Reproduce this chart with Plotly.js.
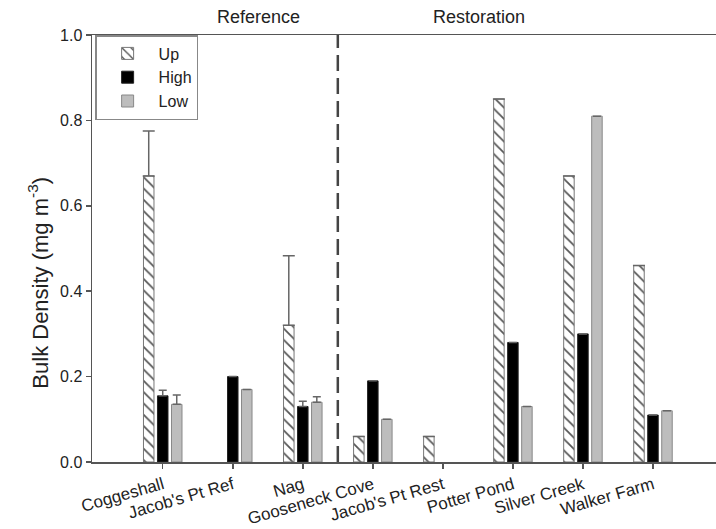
<!DOCTYPE html>
<html>
<head>
<meta charset="utf-8">
<script src="https://cdn.plot.ly/plotly-3.0.1.min.js"></script>
<style>html,body{margin:0;padding:0;background:#fff;}#chart{width:716px;height:529px;}</style>
</head>
<body>
<div id="chart"></div>
<script>
// Data
const referenceSites = ["Coggeshall", "Jacob's Pt Ref", "Nag"];
const restorationSites = ["Gooseneck Cove", "Jacob's Pt Rest", "Potter Pond", "Silver Creek", "Walker Farm"];
const sites = referenceSites.concat(restorationSites);
const upValues   = [0.67, null, 0.32, 0.06, 0.06, 0.85, 0.67, 0.46];
const highValues = [0.155, 0.20, 0.13, 0.19, null, 0.28, 0.30, 0.11];
const lowValues  = [0.135, 0.17, 0.14, 0.10, null, 0.13, 0.81, 0.12];
const upErr   = [0.105, null, 0.163, null, null, null, null, null];
const highErr = [0.013, null, 0.012, null, null, null, null, null];
const lowErr  = [0.022, null, 0.013, null, null, null, null, null];
const groupLabels = ["Reference", "Restoration"];
const seriesNames = ["Up", "High", "Low"];
const yTitle = 'Bulk Density (mg m<sup>-3</sup>)';

const font = "Liberation Sans, Arial, sans-serif";
const errStyle = (arr, w) => ({type: 'data', array: arr, arrayminus: arr.map(() => 0), symmetric: false,
  color: '#666', thickness: 1.5, width: w, visible: true});

const traces = [
  {type: 'bar', name: seriesNames[0], x: sites, y: upValues,
   marker: {color: '#ffffff', line: {color: '#777', width: 1},
            pattern: {shape: '\\', fgcolor: '#555', bgcolor: '#ffffff', size: 8, solidity: 0.22}},
   error_y: errStyle(upErr, 6)},
  {type: 'bar', name: seriesNames[1], x: sites, y: highValues,
   marker: {color: '#000000', line: {color: '#222', width: 1}},
   error_y: errStyle(highErr, 4)},
  {type: 'bar', name: seriesNames[2], x: sites, y: lowValues,
   marker: {color: '#bdbdbd', line: {color: '#888', width: 1}},
   error_y: errStyle(lowErr, 4)}
];

const divider = referenceSites.length - 0.5;
const xMin = -1.01, xMax = 7.9;
const fracDiv = (divider - xMin) / (xMax - xMin);

const layout = {
  width: 716, height: 529,
  margin: {l: 92, r: 0, t: 35, b: 67},
  paper_bgcolor: '#fff', plot_bgcolor: '#fff',
  barmode: 'group', bargap: 0.40, bargroupgap: 0.25,
  font: {family: font, color: '#222', size: 15},
  showlegend: true,
  legend: {x: 0.005, y: 1, xanchor: 'left', yanchor: 'top', bgcolor: '#fff',
           bordercolor: '#888', borderwidth: 1.5, font: {family: font, size: 16, color: '#222'},
           itemwidth: 52},
  xaxis: {type: 'category', range: [xMin, xMax], showgrid: false, zeroline: false,
          showline: true, linecolor: '#555', linewidth: 1.5, mirror: true,
          ticks: 'outside', ticklen: 5, tickcolor: '#555', tickwidth: 1.5,
          tickangle: -16, tickfont: {family: font, size: 17, color: '#222'}},
  yaxis: {range: [0, 1], dtick: 0.2, tickformat: '.1f', showgrid: false, zeroline: false,
          showline: true, linecolor: '#555', linewidth: 1.5,
          ticks: 'outside', ticklen: 5, tickcolor: '#555', tickwidth: 1.5,
          tickfont: {family: font, size: 16, color: '#222'}},
  shapes: [{type: 'line', xref: 'x', yref: 'paper', x0: divider, x1: divider, y0: 0, y1: 1,
            line: {color: '#444', width: 2.5, dash: '16px,7px'}}],
  annotations: [
    {text: groupLabels[0], xref: 'paper', yref: 'paper', x: fracDiv / 2, y: 1, yshift: 18,
     yanchor: 'middle', showarrow: false, font: {family: font, size: 18, color: '#222'}},
    {text: groupLabels[1], xref: 'paper', yref: 'paper', x: (fracDiv + 1) / 2, y: 1, yshift: 18,
     yanchor: 'middle', showarrow: false, font: {family: font, size: 18, color: '#222'}},
    {text: yTitle, xref: 'paper', yref: 'paper', x: 0, xshift: -54, y: 0.42,
     xanchor: 'center', yanchor: 'middle', textangle: -90, showarrow: false,
     font: {family: font, size: 22, color: '#222'}}
  ]
};

Plotly.newPlot('chart', traces, layout, {displayModeBar: false, staticPlot: true});
</script>
</body>
</html>
